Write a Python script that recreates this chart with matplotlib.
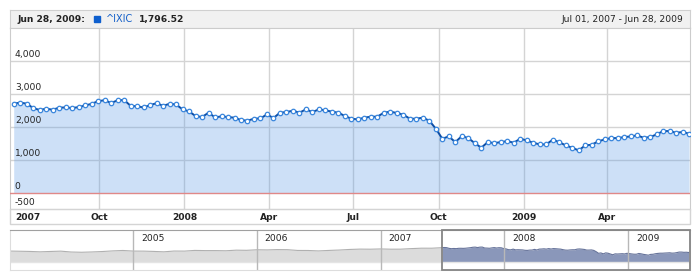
#!/usr/bin/env python3
"""NASDAQ composite (^IXIC) weekly closes, Jul 2007 - Jun 2009, stock-chart style."""

import datetime as dt

import matplotlib
matplotlib.use("Agg")
import matplotlib.pyplot as plt
import matplotlib.dates as mdates
from matplotlib.patches import Rectangle

plt.rcParams["font.family"] = "DejaVu Sans"

# ---------------------------------------------------------------------------
# data
# ---------------------------------------------------------------------------
START = dt.date(2007, 7, 1)
END = dt.date(2009, 6, 28)

# weekly values, Jul 01 2007 .. Jun 28 2009
ixic = [
    2705, 2736, 2705, 2572, 2511, 2553, 2520, 2584, 2590, 2572, 2600, 2650, 2700,
    2780, 2810, 2725, 2806, 2815, 2640, 2623, 2590, 2660, 2720, 2640, 2700, 2680,
    2532, 2471, 2329, 2298, 2431, 2289, 2319, 2298, 2279, 2207, 2188, 2249, 2258,
    2380, 2268, 2431, 2450, 2492, 2431, 2532, 2450, 2532, 2502, 2462, 2431, 2329,
    2249, 2228, 2279, 2310, 2310, 2431, 2462, 2421, 2371, 2249, 2249, 2279, 2188,
    1945, 1641, 1711, 1538, 1720, 1660, 1508, 1368, 1538, 1508, 1538, 1568, 1520,
    1641, 1590, 1520, 1468, 1468, 1611, 1538, 1438, 1368, 1286, 1438, 1459, 1560,
    1620, 1660, 1660, 1690, 1711, 1742, 1671, 1690, 1772, 1873, 1873, 1823, 1843,
    1796.52,
]
weeks = [START + dt.timedelta(weeks=i) for i in range(len(ixic))]

# monthly values shown in the scroller before the selected range (Jan 2004 .. Jun 2007)
hist_values = [
    2066, 2030, 1994, 1920, 1987, 2048, 1887, 1838, 1897, 1975, 2096, 2175,
    2062, 2052, 1999, 1922, 2068, 2057, 2185, 2152, 2152, 2120, 2233, 2205,
    2306, 2281, 2340, 2323, 2179, 2172, 2091, 2184, 2258, 2367, 2432, 2415,
    2464, 2416, 2422, 2525, 2605, 2603,
]
hist_months = [dt.date(2004 + i // 12, i % 12 + 1, 1) for i in range(len(hist_values))]

y_ticks = [-500, 0, 1000, 2000, 3000, 4000]
y_labels = ["-500", "0", "1,000", "2,000", "3,000", "4,000"]

x_ticks = [dt.date(2007, 10, 1), dt.date(2008, 1, 1), dt.date(2008, 4, 1),
           dt.date(2008, 7, 1), dt.date(2008, 10, 1), dt.date(2009, 1, 1),
           dt.date(2009, 4, 1)]
x_labels = ["Oct", "2008", "Apr", "Jul", "Oct", "2009", "Apr"]

scroll_years = [2005, 2006, 2007, 2008, 2009]

# ---------------------------------------------------------------------------
# layout helpers (pixel boxes on a 700x280 canvas)
# ---------------------------------------------------------------------------
W, H = 700, 280
TEXT = "#222222"
FS = 6.6


def box(x0, y0, x1, y1):
    return [x0 / W, 1 - y1 / H, (x1 - x0) / W, (y1 - y0) / H]


fig = plt.figure(figsize=(7, 2.8), dpi=100)

# ---------------------------------------------------------------------------
# header bar
# ---------------------------------------------------------------------------
hx = fig.add_axes(box(10, 10, 690, 28))
hx.set_xlim(0, 680)
hx.set_ylim(18, 0)
hx.set_facecolor("#f1f1f1")
hx.set_xticks([])
hx.set_yticks([])
for s in hx.spines.values():
    s.set_color("#d0d0d0")
hx.text(7, 9.5, "Jun 28, 2009:", fontsize=FS, fontweight="bold", color=TEXT, va="center")
hx.add_patch(Rectangle((84, 6), 6, 6, color="#0e5fce"))
hx.text(95.5, 9.5, "^IXIC", fontsize=FS + 0.4, color="#1560c8", va="center")
hx.text(129, 9.5, f"{ixic[-1]:,.2f}", fontsize=FS, fontweight="bold", color=TEXT, va="center")
hx.text(673, 9.5, "Jul 01, 2007 - Jun 28, 2009", fontsize=FS, color=TEXT,
        va="center", ha="right")

# ---------------------------------------------------------------------------
# main plot
# ---------------------------------------------------------------------------
ax = fig.add_axes(box(10, 28, 690, 209.3))
ax.set_xlim(dt.date(2007, 6, 27), dt.date(2009, 6, 29))
ax.set_ylim(-500, 5000)
ax.fill_between(weeks, 0, ixic, color="#5a9ae6", alpha=0.3, lw=0, zorder=2)
ax.axhline(0, color="#e08888", lw=1, zorder=3)
ax.plot(weeks, ixic, color="#0d4ea6", lw=1.4, marker="o", ms=3.2,
        mfc="white", mec="#3a86dc", mew=0.9, zorder=4)

ax.set_yticks(y_ticks[2:])
ax.set_xticks(x_ticks)
ax.set_xticklabels(x_labels, fontsize=FS, fontweight="bold", color=TEXT)
ax.grid(True, color="#d4d4d4", lw=1)
ax.set_axisbelow(True)
ax.tick_params(length=0, labelleft=False, pad=2.5)
for s in ax.spines.values():
    s.set_color("#cccccc")

for v, lab in zip(y_ticks, y_labels):
    ax.annotate(lab, xy=(0, v), xycoords=("axes fraction", "data"),
                xytext=(3.5, 1.3), textcoords="offset points",
                fontsize=FS, color=TEXT, va="bottom", ha="left")
ax.annotate("2007", xy=(0, 0), xycoords="axes fraction", xytext=(3.5, -2.5),
            textcoords="offset points", fontsize=FS, fontweight="bold",
            color=TEXT, va="top", ha="left")

# frame around the date-label band
fig.add_artist(Rectangle((10 / W, 1 - 224 / H), 680 / W, (224 - 209.3) / H,
                         transform=fig.transFigure, fill=False,
                         ec="#d4d4d4", lw=1))

# ---------------------------------------------------------------------------
# scroller
# ---------------------------------------------------------------------------
sx = fig.add_axes(box(10, 230, 690, 270))
sx.set_xlim(dt.date(2004, 1, 3), dt.date(2009, 7, 2))
sx.set_ylim(-1510, 6040)
sx.set_xticks([])
sx.set_yticks([])
for s in sx.spines.values():
    s.set_color("#dddddd")
sx.spines["top"].set_color("#a0a0a0")

hx_dates = hist_months + [START]
hx_vals = hist_values + [ixic[0]]
sx.fill_between(hx_dates, 0, hx_vals, color="#dcdcdc", lw=0)
sx.plot(hx_dates, hx_vals, color="#b0b0b0", lw=0.8)
sx.fill_between(weeks, 0, ixic, color="#8a97ba", lw=0)
sx.plot(weeks, ixic, color="#66739a", lw=0.8)
sx.axhline(0, color="#e4e4e4", lw=1)

for yr in scroll_years:
    d = dt.date(yr, 1, 1)
    sx.axvline(d, color="#b8b8b8", lw=1)
    sx.annotate(str(yr), xy=(d, 1), xycoords=("data", "axes fraction"),
                xytext=(5.5, -6.3), textcoords="offset points",
                fontsize=FS, color=TEXT, va="center", ha="left")

s0 = mdates.date2num(START)
sx.add_patch(Rectangle((s0, 0), mdates.date2num(dt.date(2009, 7, 2)) - s0, 1,
                       transform=sx.get_xaxis_transform(), fill=False,
                       ec="#858585", lw=1.3, clip_on=False, zorder=5))

fig.savefig("out.png", dpi=100)
